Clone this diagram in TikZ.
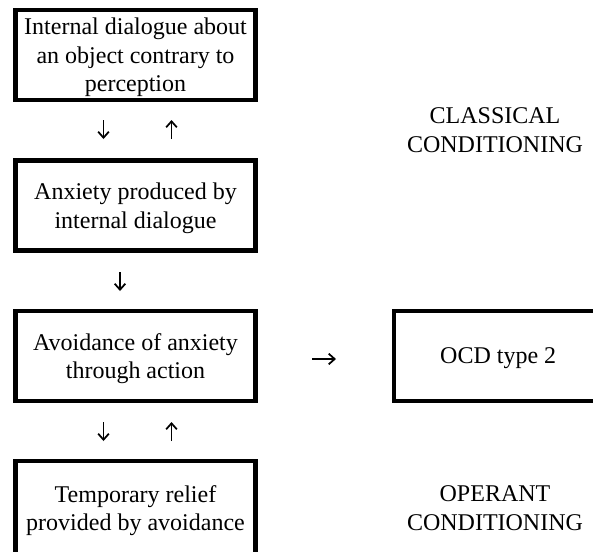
\documentclass[tikz,border=0pt]{standalone}
\usepackage{fontspec}
\setmainfont{Liberation Serif}
\usetikzlibrary{arrows.meta}
\tikzset{
	every node/.style={font=\fontsize{18pt}{21.4pt}\selectfont, align=center},
	stage/.style={draw, line width=3.6pt, minimum width=180pt, minimum height=67.5pt, inner sep=0pt, text depth=-0.5pt},
	flow/.style={-{Straight Barb[length=4.5pt,width=8pt,line width=1.3pt]}, line width=1.4pt}
}

\begin{document}
\begin{tikzpicture}[x=0.75pt,y=-0.75pt]
	\clip (0,0) rectangle (593,551);
	\node[stage] (dialogue) at (135.5,55) {Internal dialogue about\\an object contrary to\\perception};
	\node[stage] (anxiety) at (135.5,205.5) {Anxiety produced by\\internal dialogue};
	\node[stage] (avoid) at (135.5,356) {Avoidance of anxiety\\through action};
	\node[stage, minimum height=70.5pt] (relief) at (135.5,508) {Temporary relief\\provided by avoidance};
	\node[stage, minimum width=156.4pt, anchor=west] (ocd) at (391.5,356) {OCD type 2};
	\node (classical) at (495,130) {CLASSICAL\\CONDITIONING};
	\node (operant) at (495,508) {OPERANT\\CONDITIONING};
	\coordinate (downA1) at (103.5,120);
	\coordinate (downA2) at (103.5,139);
	\coordinate (upA1) at (171.5,139);
	\coordinate (upA2) at (171.5,120);
	\coordinate (downB1) at (120,272);
	\coordinate (downB2) at (120,291);
	\coordinate (right1) at (312,359);
	\coordinate (right2) at (336,359);
	\coordinate (downC1) at (103.5,422);
	\coordinate (downC2) at (103.5,441);
	\coordinate (upC1) at (171.5,441);
	\coordinate (upC2) at (171.5,422);
	\draw[flow] (downA1) -- (downA2);
	\draw[flow] (upA1) -- (upA2);
	\draw[flow] (downB1) -- (downB2);
	\draw[flow] (right1) -- (right2);
	\draw[flow] (downC1) -- (downC2);
	\draw[flow] (upC1) -- (upC2);
\end{tikzpicture}
\end{document}
